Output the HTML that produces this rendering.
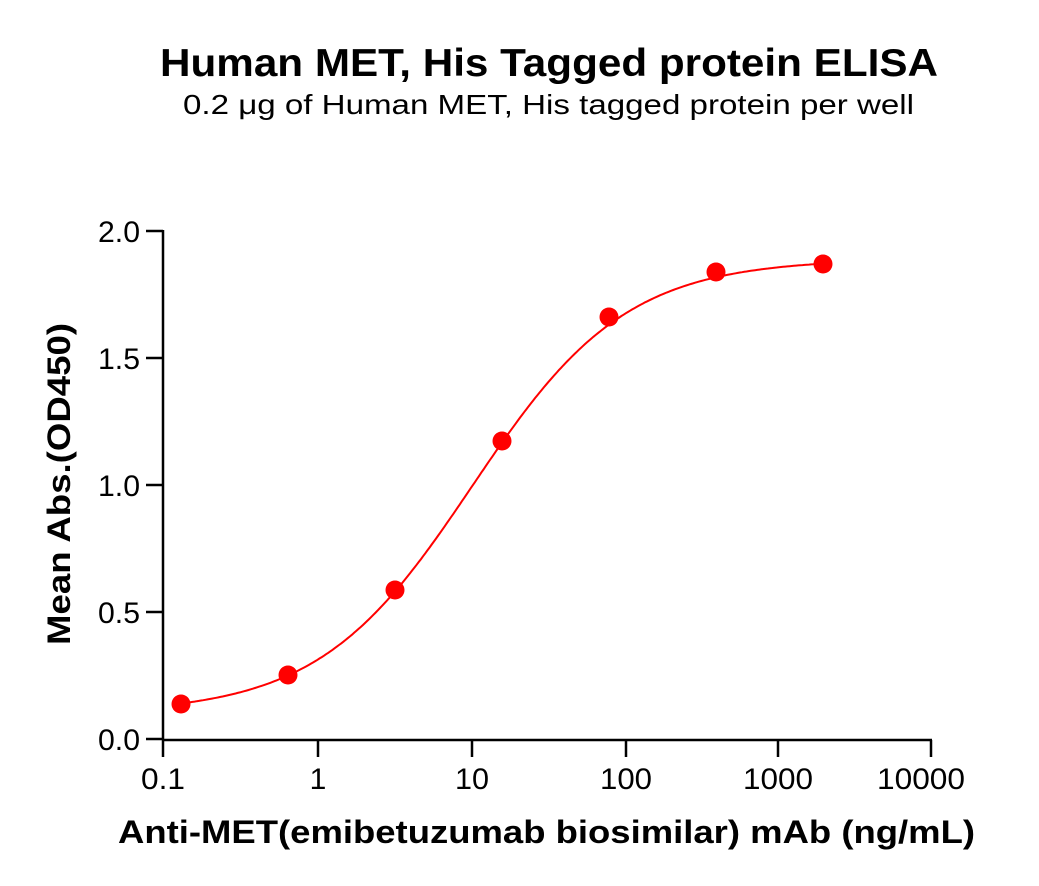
<!DOCTYPE html>
<html><head><meta charset="utf-8"><style>
html,body{margin:0;padding:0;background:#fff;}
svg{display:block;font-family:"Liberation Sans",Arial,sans-serif;}
</style></head><body>
<svg width="1039" height="886" viewBox="0 0 1039 886" xmlns="http://www.w3.org/2000/svg">
<text x="160" y="76" font-size="39" font-weight="bold" textLength="778" lengthAdjust="spacingAndGlyphs">Human MET, His Tagged protein ELISA</text>
<text x="183" y="114" font-size="28" textLength="731" lengthAdjust="spacingAndGlyphs">0.2 μg of Human MET, His tagged protein per well</text>
<g stroke="#000" stroke-width="2.5" fill="none">
<line x1="163" y1="230" x2="163" y2="740"/>
<line x1="162" y1="740" x2="932" y2="740"/>
<line x1="146" y1="231" x2="163" y2="231"/>
<line x1="146" y1="358" x2="163" y2="358"/>
<line x1="146" y1="485" x2="163" y2="485"/>
<line x1="146" y1="612" x2="163" y2="612"/>
<line x1="146" y1="739" x2="163" y2="739"/>
<line x1="163" y1="740" x2="163" y2="757"/>
<line x1="318" y1="740" x2="318" y2="757"/>
<line x1="472" y1="740" x2="472" y2="757"/>
<line x1="626" y1="740" x2="626" y2="757"/>
<line x1="778" y1="740" x2="778" y2="757"/>
<line x1="931" y1="740" x2="931" y2="757"/>
</g>
<g font-size="30" text-anchor="end">
<text x="140" y="242" textLength="42" lengthAdjust="spacingAndGlyphs">2.0</text>
<text x="140" y="369" textLength="42" lengthAdjust="spacingAndGlyphs">1.5</text>
<text x="140" y="496" textLength="42" lengthAdjust="spacingAndGlyphs">1.0</text>
<text x="140" y="623" textLength="42" lengthAdjust="spacingAndGlyphs">0.5</text>
<text x="140" y="750" textLength="42" lengthAdjust="spacingAndGlyphs">0.0</text>
</g>
<g font-size="30" text-anchor="middle">
<text x="163" y="789" textLength="44" lengthAdjust="spacingAndGlyphs">0.1</text>
<text x="318" y="789">1</text>
<text x="472" y="789" textLength="34" lengthAdjust="spacingAndGlyphs">10</text>
<text x="626" y="789" textLength="52" lengthAdjust="spacingAndGlyphs">100</text>
<text x="778" y="789" textLength="70" lengthAdjust="spacingAndGlyphs">1000</text>
<text x="921" y="789" textLength="88" lengthAdjust="spacingAndGlyphs">10000</text>
</g>
<text x="118" y="843" font-size="32" font-weight="bold" textLength="857" lengthAdjust="spacingAndGlyphs">Anti-MET(emibetuzumab biosimilar) mAb (ng/mL)</text>
<text transform="translate(70,645) rotate(-90)" font-size="32" font-weight="bold" textLength="322" lengthAdjust="spacingAndGlyphs">Mean Abs.(OD450)</text>
<path id="curve" fill="none" stroke="#ff0000" stroke-width="2"/>
<g fill="#ff0000">
<circle cx="181" cy="704" r="9.5"/>
<circle cx="288" cy="675" r="9.5"/>
<circle cx="395" cy="590" r="9.5"/>
<circle cx="502" cy="441" r="9.5"/>
<circle cx="609" cy="317" r="9.5"/>
<circle cx="716" cy="272" r="9.5"/>
<circle cx="823" cy="264" r="9.5"/>
</g>
</svg>
<script>
var d="";
for(var i=0;i<=300;i++){
 var lx=Math.log10(0.128)+(Math.log10(2000)-Math.log10(0.128))*i/300;
 var x=Math.pow(10,lx);
 var y=0.1+1.79/(1+Math.pow(10.1/x,0.87));
 var px=163+(lx+1)*154.2, py=739-y*254;
 d+=(i?"L":"M")+px.toFixed(1)+","+py.toFixed(1);
}
document.getElementById("curve").setAttribute("d",d);
</script>
</body></html>
